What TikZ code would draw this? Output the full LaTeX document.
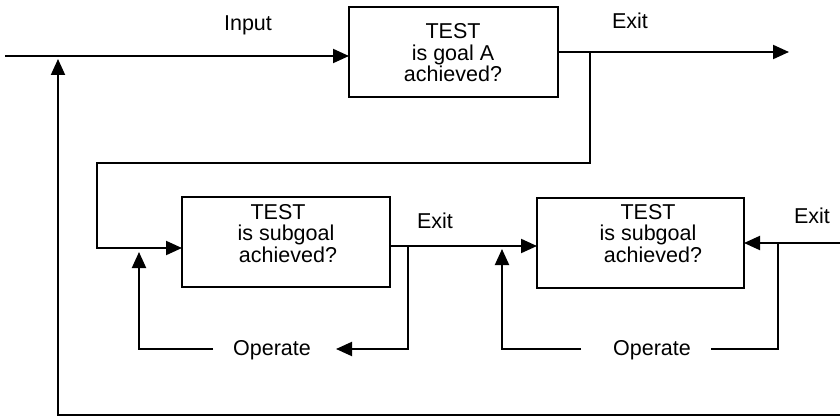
\documentclass[tikz,border=0pt]{standalone}
\usepackage{fontspec}
\setmainfont{Liberation Sans}
\usetikzlibrary{arrows.meta}
\begin{document}
\begin{tikzpicture}[x=1pt,y=-1pt,
  line width=2pt,
  tip/.style={-{Triangle[length=16pt,width=14pt]}},
  box/.style={draw,line width=2.3pt,minimum width=#1,minimum height=90pt,inner sep=0pt,outer sep=0pt},
  lbl/.style={font=\fontsize{21.5}{21.5}\selectfont,inner sep=0pt},
  txt/.style={font=\fontsize{21.5}{21.5}\selectfont,align=center,inner sep=0pt}]
\useasboundingbox (0,0) rectangle (840,417);
% boxes
\node[box=209pt] (g) at (453.5,52) {};
\node[box=208pt] (a) at (286,242) {};
\node[box=207pt] (b) at (640.5,243) {};
% box texts
\node[txt] (gt) at (453,53) {TEST\\is goal A\hspace*{8pt}\\achieved?};
\node[txt] (at) at (286,233.5) {TEST\hspace*{16pt}\\is subgoal\\\hspace*{4pt}achieved?};
\node[txt] (bt) at (648,233.5) {TEST\\is subgoal\\\hspace*{10pt}achieved?};
% labels
\node[lbl,anchor=base] (inp) at (248,31) {Input};
\node[lbl,anchor=base] (ex0) at (630,29) {Exit};
\node[lbl,anchor=base] (ex1) at (435,228) {Exit};
\node[lbl,anchor=base] (ex2) at (812,223) {Exit};
\node[lbl,anchor=base] (op1) at (272,355) {Operate};
\node[lbl,anchor=base] (op2) at (652,355) {Operate};
% coordinates
\coordinate (in0) at (5,56);
\coordinate (out0) at (789,52);
\coordinate (j0) at (590,52);
\coordinate (k0) at (97,163);
\coordinate (k1) at (0,248);
\coordinate (e1) at (0,246);
\coordinate (j1) at (408,246);
\coordinate (t1) at (336,349);
\coordinate (s1) at (213,349);
\coordinate (u1) at (139,252);
\coordinate (s2) at (581,349);
\coordinate (u2) at (502,249);
\coordinate (e2) at (840,243);
\coordinate (j3) at (778,243);
\coordinate (s3) at (711,349);
\coordinate (f0) at (840,415);
\coordinate (f1) at (58,59);
% connectors
\draw[tip] (in0) -- (in0 -| g.west);
\draw[tip] (g.east) -- (out0);
\draw[tip] (j0) |- (k0) |- (a.west |- k1);
\draw[tip] (a.east |- e1) -- (b.west |- e1);
\draw[tip] (j1) |- (t1);
\draw[tip] (s1) -| (u1);
\draw[tip] (s2) -| (u2);
\draw[tip] (e2) -- (b.east |- e2);
\draw (s3) -| (j3);
\draw[tip] (f0) -| (f1);
\end{tikzpicture}
\end{document}
